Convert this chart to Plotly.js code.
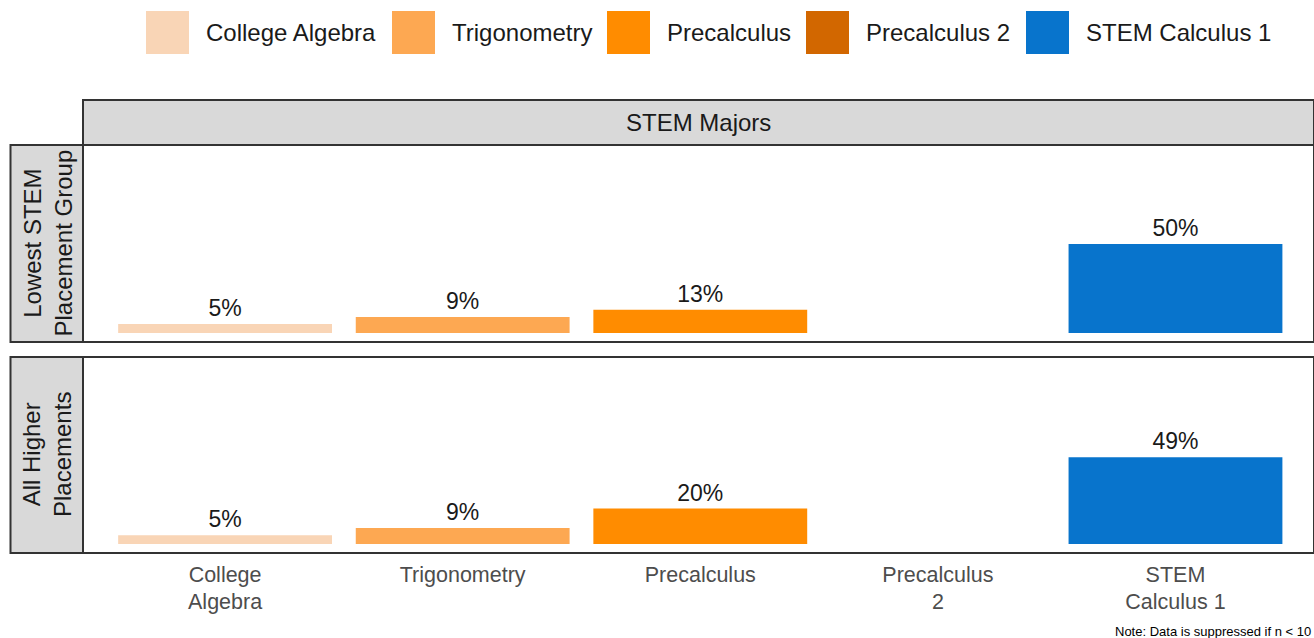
<!DOCTYPE html>
<html>
<head>
<meta charset="utf-8">
<script src="https://cdn.plot.ly/plotly-3.0.1.min.js"></script>
<style>html,body{margin:0;padding:0;background:#fff;}#chart{width:1314px;height:638px;}</style>
</head>
<body>
<div id="chart"></div>
<script>
// ---- Data ----
const categories = ["College Algebra", "Trigonometry", "Precalculus", "Precalculus 2", "STEM Calculus 1"];
const tickLabels = ["College<br>Algebra", "Trigonometry", "Precalculus", "Precalculus<br>2", "STEM<br>Calculus 1"];
const lowestGroupPct = [5, 9, 13, null, 50];
const higherGroupPct = [5, 9, 20, null, 49];
const panelLabels = ["Lowest STEM<br>Placement Group", "All Higher<br>Placements"];
const stripTitle = "STEM Majors";
const noteText = "Note: Data is suppressed if n < 10";
const courseColors = ["#F9D5B6", "#FDA852", "#FF8C00", "#D26700", "#0874CC"];

// ---- Layout helpers ----
const W = 1314, H = 638;
const px = x => x / W;
const py = y => 1 - y / H;
const FONT = "Liberation Sans, Arial, sans-serif";

function barTrace(vals, xa, ya) {
  return {
    type: "bar",
    x: categories,
    y: vals,
    xaxis: xa, yaxis: ya,
    marker: {color: courseColors, line: {width: 0}},
    texttemplate: "%{y}%",
    textposition: "outside",
    textfont: {family: FONT, size: 23, color: "#1a1a1a"},
    cliponaxis: false,
    hoverinfo: "x+y",
    showlegend: false
  };
}

const data = [barTrace(lowestGroupPct, "x", "y"), barTrace(higherGroupPct, "x2", "y2")];

const panelTop = [145, 357], panelBot = [342, 553];
const plotL = 83, plotR = 1314;

const xCommon = {
  type: "category",
  categoryorder: "array",
  categoryarray: categories,
  range: [-0.598, 4.583],
  domain: [px(plotL), 1],
  showgrid: false, zeroline: false, showline: false, ticks: "",
  fixedrange: true
};
const yCommon = {
  range: [-5.06, 105.6],
  showgrid: false, zeroline: false, showline: false, ticks: "",
  showticklabels: false, fixedrange: true
};

const shapes = [];
const annotations = [];

// top strip
shapes.push({type: "rect", xref: "paper", yref: "paper", x0: px(plotL), x1: 1, y0: py(145), y1: py(100),
  fillcolor: "#D9D9D9", line: {color: "#333333", width: 2}, layer: "below"});
annotations.push({xref: "paper", yref: "paper", x: px((plotL + plotR) / 2), y: py(123), text: stripTitle,
  showarrow: false, xanchor: "center", yanchor: "middle", font: {family: FONT, size: 24, color: "#1a1a1a"}});

// panels and left strips
for (let i = 0; i < 2; i++) {
  shapes.push({type: "rect", xref: "paper", yref: "paper", x0: px(plotL), x1: 1, y0: py(panelBot[i]), y1: py(panelTop[i]),
    fillcolor: "rgba(0,0,0,0)", line: {color: "#333333", width: 2}, layer: "above"});
  shapes.push({type: "rect", xref: "paper", yref: "paper", x0: px(10.5), x1: px(plotL), y0: py(panelBot[i]), y1: py(panelTop[i]),
    fillcolor: "#D9D9D9", line: {color: "#333333", width: 2}, layer: "below"});
  annotations.push({xref: "paper", yref: "paper", x: px(47), y: py((panelTop[i] + panelBot[i]) / 2),
    text: panelLabels[i], textangle: -90, showarrow: false, xanchor: "center", yanchor: "middle",
    font: {family: FONT, size: 24, color: "#1a1a1a"}});
}

// custom legend
const legendSwatchX = [146, 392, 607, 806, 1026];
for (let i = 0; i < categories.length; i++) {
  shapes.push({type: "rect", xref: "paper", yref: "paper", x0: px(legendSwatchX[i]), x1: px(legendSwatchX[i] + 43),
    y0: py(54), y1: py(11), fillcolor: courseColors[i], line: {width: 0}});
  annotations.push({xref: "paper", yref: "paper", x: px(legendSwatchX[i] + 58), y: py(33), text: categories[i],
    showarrow: false, xanchor: "left", yanchor: "middle", font: {family: FONT, size: 24, color: "#1a1a1a"}});
}

// note
annotations.push({xref: "paper", yref: "paper", x: px(1313), y: py(631), text: noteText, showarrow: false,
  xanchor: "right", yanchor: "middle", font: {family: FONT, size: 13, color: "#000000"}});

const layout = {
  width: W, height: H,
  margin: {l: 0, r: 0, t: 0, b: 0},
  paper_bgcolor: "#ffffff", plot_bgcolor: "#ffffff",
  bargap: 0.1,
  showlegend: false,
  font: {family: FONT},
  xaxis: Object.assign({}, xCommon, {anchor: "y", showticklabels: false}),
  xaxis2: Object.assign({}, xCommon, {anchor: "y2", showticklabels: true,
    tickvals: categories, ticktext: tickLabels, ticklabelstandoff: 6,
    tickfont: {family: FONT, size: 21.5, color: "#4D4D4D"}}),
  yaxis: Object.assign({}, yCommon, {domain: [py(panelBot[0]), py(panelTop[0])], anchor: "x"}),
  yaxis2: Object.assign({}, yCommon, {domain: [py(panelBot[1]), py(panelTop[1])], anchor: "x2"}),
  shapes: shapes,
  annotations: annotations
};

Plotly.newPlot("chart", data, layout, {displayModeBar: false, staticPlot: true});
</script>
</body>
</html>
